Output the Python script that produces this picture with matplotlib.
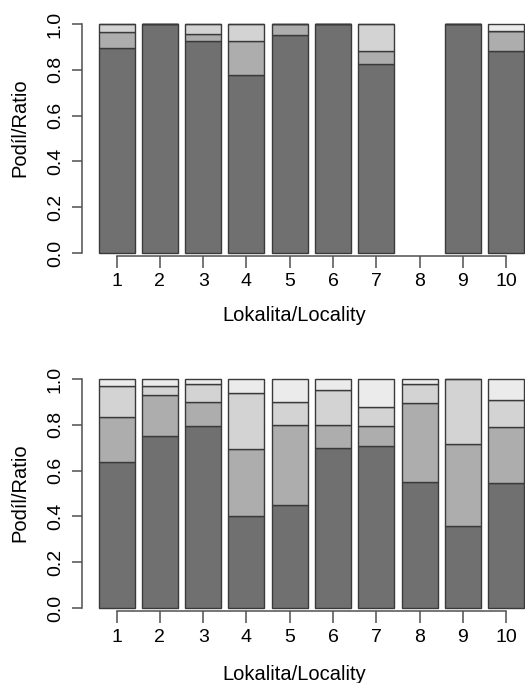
import numpy as np
import matplotlib
matplotlib.use("Agg")
import matplotlib.pyplot as plt

plt.rcParams['font.family'] = ['Liberation Sans', 'DejaVu Sans']

localities = ["1", "2", "3", "4", "5", "6", "7", "8", "9", "10"]

# top panel, share of each class (bottom to top), locality 8 has no data
top_a = [0.894, 1.0, 0.927, 0.779, 0.951, 1.0, 0.825, np.nan, 1.0, 0.881]
top_b = [0.071, 0.0, 0.029, 0.147, 0.049, 0.0, 0.058, np.nan, 0.0, 0.090]
top_c = [0.035, 0.0, 0.044, 0.074, 0.0, 0.0, 0.117, np.nan, 0.0, 0.0]
top_d = [0.0, 0.0, 0.0, 0.0, 0.0, 0.0, 0.0, np.nan, 0.0, 0.029]

# bottom panel
bot_a = [0.639, 0.751, 0.795, 0.403, 0.450, 0.700, 0.709, 0.549, 0.360, 0.544]
bot_b = [0.197, 0.178, 0.103, 0.290, 0.349, 0.099, 0.084, 0.348, 0.355, 0.245]
bot_c = [0.133, 0.039, 0.079, 0.245, 0.102, 0.152, 0.083, 0.081, 0.285, 0.121]
bot_d = [0.031, 0.032, 0.023, 0.062, 0.099, 0.049, 0.124, 0.022, 0.0, 0.090]

colors = ["#707070", "#adadad", "#d3d3d3", "#ebebeb"]
W, H = 525, 683

fig = plt.figure(figsize=(W / 100, H / 100), dpi=100)

# R barplot geometry: width 1, space 0.2
x = 0.7 + 1.2 * np.arange(len(localities))
xlim = (-0.272, 12.472)
px_per_unit = 36.08


def make_panel(ax_bottom_px, zero_px, one_px, series):
    scale = zero_px - one_px
    ymin = -(ax_bottom_px - zero_px) / scale
    ymax = 1.04
    top_px = zero_px - ymax * scale
    left_px = 81.5
    width_px = (xlim[1] - xlim[0]) * px_per_unit
    ax = fig.add_axes([left_px / W, 1 - ax_bottom_px / H,
                       width_px / W, (ax_bottom_px - top_px) / H])
    bottom = np.zeros(len(localities))
    for vals, c in zip(series, colors):
        vals = np.array(vals, dtype=float)
        ax.bar(x, vals, width=1.0, bottom=bottom, color=c,
               edgecolor="#3a3a3a", linewidth=1.0)
        bottom = bottom + np.nan_to_num(vals)
    ax.set_xlim(*xlim)
    ax.set_ylim(ymin, ymax)
    for s in ["top", "right"]:
        ax.spines[s].set_visible(False)
    ax.spines["left"].set_bounds(0, 1)
    ax.spines["bottom"].set_bounds(x[0], x[-1])
    for s in ["left", "bottom"]:
        ax.spines[s].set_color("#505050")
        ax.spines[s].set_linewidth(1.1)
    ax.set_xticks(x)
    ax.set_xticklabels(localities)
    ax.set_yticks([0, 0.2, 0.4, 0.6, 0.8, 1.0])
    ax.set_yticklabels(["0.0", "0.2", "0.4", "0.6", "0.8", "1.0"],
                       rotation=90, va="center")
    ax.tick_params(axis="x", length=8.3, width=1.1, color="#505050",
                   pad=4.5, labelsize=14)
    ax.tick_params(axis="y", length=7.2, width=1.1, color="#505050",
                   pad=5.5, labelsize=14)
    ax.patch.set_visible(False)
    return ax


make_panel(255.5, 253, 24, [top_a, top_b, top_c, top_d])
make_panel(611, 608, 379, [bot_a, bot_b, bot_c, bot_d])

fig.text(20 / W, 1 - 128 / H, "Podíl/Ratio", rotation=90,
         ha="center", va="center", fontsize=14.5)
fig.text(20 / W, 1 - 493 / H, "Podíl/Ratio", rotation=90,
         ha="center", va="center", fontsize=14.5)
fig.text(294 / W, 1 - 321 / H, "Lokalita/Locality",
         ha="center", va="baseline", fontsize=14.5)
fig.text(294 / W, 1 - 680.5 / H, "Lokalita/Locality",
         ha="center", va="baseline", fontsize=14.5)

fig.savefig("out.png", dpi=100)
